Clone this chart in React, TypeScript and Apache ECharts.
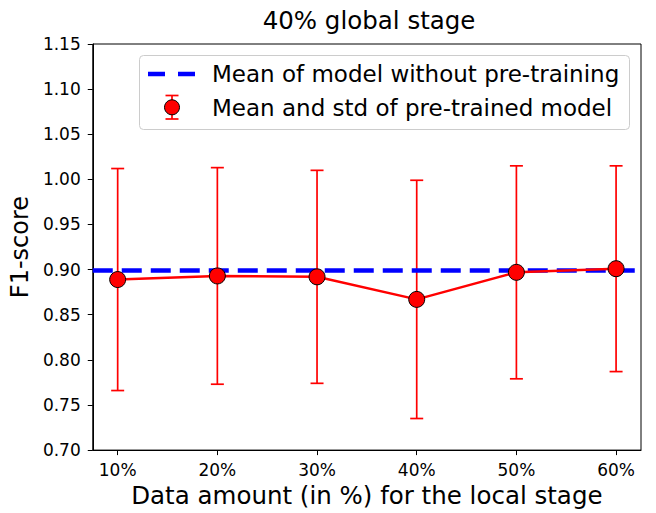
import React, { useEffect, useRef } from "react";
import * as echarts from "echarts";

const categories = ["10%", "20%", "30%", "40%", "50%", "60%"];
const xValues = [10, 20, 30, 40, 50, 60];
const meanValues = [0.889, 0.893, 0.892, 0.867, 0.897, 0.901];
const stdValues = [0.123, 0.12, 0.118, 0.132, 0.118, 0.114];
const baselineMean = 0.899;
const yTicks = [0.7, 0.75, 0.8, 0.85, 0.9, 0.95, 1.0, 1.05, 1.1, 1.15];

const FONT = "DejaVu Sans";

export default function App() {
  const ref = useRef<HTMLDivElement>(null);
  useEffect(() => {
    document.body.style.margin = "0";
    const chart = echarts.init(ref.current!, null, { renderer: "svg" });
    const grid = { left: 92, top: 44, width: 549, height: 408 };
    const errData = xValues.map((x, i) => [x, meanValues[i] - stdValues[i], meanValues[i] + stdValues[i]]);
    const lineData = xValues.map((x, i) => [x, meanValues[i]]);
    const option: any = {
      animation: false,
      backgroundColor: "#ffffff",
      textStyle: { fontFamily: FONT },
      title: {
        text: "40% global stage",
        left: 364,
        textAlign: "center",
        top: 3,
        textStyle: { fontFamily: FONT, fontSize: 24.5, fontWeight: "normal", color: "#000" },
      },
      grid: { ...grid, show: true, borderColor: "#000", borderWidth: 1, backgroundColor: "transparent" },
      xAxis: {
        type: "value",
        min: 7.5,
        max: 62.5,
        name: "Data amount (in %) for the local stage",
        nameLocation: "middle",
        nameGap: 31,
        nameTextStyle: { fontFamily: FONT, fontSize: 24.5, color: "#000" },
        axisLine: { show: true, lineStyle: { color: "#000", width: 1 } },
        axisTick: { show: true, length: 5, inside: false, lineStyle: { color: "#000" }, customValues: xValues },
        axisLabel: {
          customValues: xValues,
          formatter: (v: number) => categories[xValues.indexOf(Math.round(v))] ?? "",
          fontFamily: FONT,
          fontSize: 17,
          color: "#000",
          margin: 11,
        },
        splitLine: { show: false },
      },
      yAxis: {
        type: "value",
        min: 0.7,
        max: 1.15,
        name: "F1-score",
        nameLocation: "middle",
        nameRotate: 90,
        nameGap: 56,
        nameTextStyle: { fontFamily: FONT, fontSize: 24, color: "#000" },
        axisLine: { show: true, lineStyle: { color: "#000", width: 1 } },
        axisTick: { show: true, length: 5, inside: false, lineStyle: { color: "#000" }, customValues: yTicks },
        axisLabel: {
          customValues: yTicks,
          formatter: (v: number) => v.toFixed(2),
          fontFamily: FONT,
          fontSize: 17,
          color: "#000",
          margin: 12,
        },
        splitLine: { show: false },
      },
      series: [
        {
          type: "custom",
          name: "err",
          z: 1,
          data: errData,
          encode: { x: 0, y: [1, 2] },
          renderItem: (params: any, api: any) => {
            const x = api.value(0);
            const lo = api.coord([x, api.value(1)]);
            const hi = api.coord([x, api.value(2)]);
            const cap = 6.5;
            const style = { stroke: "#ff0000", lineWidth: 1.7 };
            return {
              type: "group",
              children: [
                { type: "line", shape: { x1: lo[0], y1: lo[1], x2: hi[0], y2: hi[1] }, style },
                { type: "line", shape: { x1: lo[0] - cap, y1: lo[1], x2: lo[0] + cap, y2: lo[1] }, style },
                { type: "line", shape: { x1: hi[0] - cap, y1: hi[1], x2: hi[0] + cap, y2: hi[1] }, style },
              ],
            };
          },
        },
        {
          type: "line",
          name: "baseline",
          z: 2,
          data: [[7.5, baselineMean], [62.5, baselineMean]],
          symbol: "none",
          lineStyle: { color: "#0000ff", width: 4.5, type: [20, 9] },
        },
        {
          type: "line",
          name: "pretrained",
          z: 3,
          data: lineData,
          symbol: "circle",
          symbolSize: 16,
          lineStyle: { color: "#ff0000", width: 2.5 },
          itemStyle: { color: "#ff0000", borderColor: "#000", borderWidth: 1 },
        },
      ],
      graphic: [
        {
          type: "rect",
          shape: { x: 139.5, y: 55.5, width: 490, height: 74, r: 4 },
          style: { fill: "rgba(255,255,255,0.8)", stroke: "#cccccc", lineWidth: 1 },
          z: 10,
        },
        {
          type: "line",
          shape: { x1: 148, y1: 74, x2: 196, y2: 74 },
          style: { stroke: "#0000ff", lineWidth: 4.5, lineDash: [17, 13] },
          z: 11,
        },
        {
          type: "text",
          x: 212,
          y: 74,
          style: { text: "Mean of model without pre-training", fontFamily: FONT, fontSize: 23, fill: "#000", verticalAlign: "middle" },
          z: 11,
        },
        { type: "line", shape: { x1: 172, y1: 95.5, x2: 172, y2: 119 }, style: { stroke: "#ff0000", lineWidth: 1.7 }, z: 11 },
        { type: "line", shape: { x1: 165.5, y1: 95.5, x2: 178.5, y2: 95.5 }, style: { stroke: "#ff0000", lineWidth: 1.7 }, z: 11 },
        { type: "line", shape: { x1: 165.5, y1: 119, x2: 178.5, y2: 119 }, style: { stroke: "#ff0000", lineWidth: 1.7 }, z: 11 },
        { type: "circle", shape: { cx: 172, cy: 107.3, r: 7.5 }, style: { fill: "#ff0000", stroke: "#000", lineWidth: 1 }, z: 12 },
        {
          type: "text",
          x: 212,
          y: 107.5,
          style: { text: "Mean and std of pre-trained model", fontFamily: FONT, fontSize: 23, fill: "#000", verticalAlign: "middle" },
          z: 11,
        },
      ],
    };
    chart.setOption(option);
    return () => chart.dispose();
  }, []);
  return <div ref={ref} style={{ width: 656, height: 513 }} />;
}
